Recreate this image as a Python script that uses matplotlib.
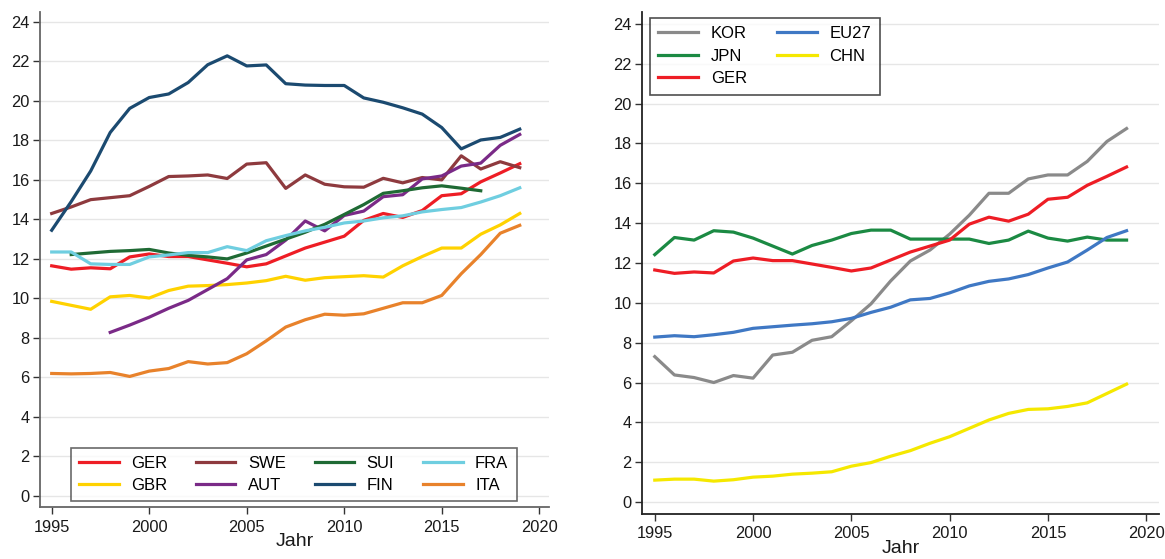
import numpy as np
import matplotlib
matplotlib.use("Agg")
import matplotlib.pyplot as plt

plt.rcParams['font.family'] = ['Liberation Sans', 'DejaVu Sans']

years = list(range(1995, 2020))

# left panel (europe)
ger = [11.65, 11.48, 11.55, 11.5, 12.1, 12.25, 12.12, 12.12, 11.95, 11.78, 11.6, 11.75, 12.15,
       12.55, 12.85, 13.15, 13.95, 14.3, 14.1, 14.45, 15.2, 15.3, 15.9, 16.35, 16.82]
swe = [14.3, 14.63, 15.0, 15.1, 15.2, 15.67, 16.17, 16.2, 16.25, 16.07, 16.8, 16.87, 15.57,
       16.25, 15.78, 15.65, 15.63, 16.08, 15.85, 16.12, 16.0, 17.22, 16.55, 16.92, 16.62]
sui_years = list(range(1996, 2018))
sui = [12.22, 12.3, 12.38, 12.42, 12.48, 12.3, 12.18, 12.1, 12.0, 12.3, 12.65, 13.0, 13.35,
       13.75, 14.25, 14.75, 15.32, 15.45, 15.6, 15.7, 15.58, 15.45]
fra = [12.35, 12.35, 11.75, 11.72, 11.72, 12.1, 12.2, 12.32, 12.32, 12.62, 12.42, 12.92, 13.18,
       13.42, 13.6, 13.82, 13.92, 14.08, 14.18, 14.38, 14.5, 14.6, 14.88, 15.2, 15.6]
gbr = [9.85, 9.65, 9.45, 10.08, 10.15, 10.02, 10.4, 10.62, 10.65, 10.7, 10.78, 10.9, 11.12,
       10.92, 11.05, 11.1, 11.15, 11.08, 11.65, 12.12, 12.55, 12.55, 13.25, 13.72, 14.3]
aut_years = list(range(1998, 2020))
aut = [8.28, 8.65, 9.05, 9.5, 9.9, 10.45, 11.0, 11.95, 12.22, 12.95, 13.92, 13.42, 14.2,
       14.42, 15.15, 15.25, 16.05, 16.2, 16.7, 16.85, 17.75, 18.3]
fin = [13.45, 14.9, 16.45, 18.4, 19.62, 20.17, 20.35, 20.93, 21.83, 22.28, 21.77, 21.82, 20.87,
       20.8, 20.78, 20.78, 20.15, 19.93, 19.65, 19.33, 18.65, 17.57, 18.02, 18.15, 18.57]
ita = [6.2, 6.18, 6.2, 6.25, 6.05, 6.32, 6.45, 6.8, 6.68, 6.75, 7.2, 7.85, 8.55,
       8.92, 9.2, 9.15, 9.22, 9.5, 9.78, 9.78, 10.15, 11.25, 12.22, 13.3, 13.7]

# right panel (world)
kor = [7.3, 6.38, 6.25, 6.0, 6.35, 6.22, 7.38, 7.52, 8.12, 8.3, 9.1, 9.95, 11.1,
       12.1, 12.65, 13.45, 14.4, 15.5, 15.5, 16.22, 16.42, 16.42, 17.1, 18.1, 18.75]
jpn = [12.42, 13.28, 13.15, 13.62, 13.55, 13.25, 12.85, 12.45, 12.88, 13.15, 13.48, 13.65, 13.65,
       13.2, 13.2, 13.2, 13.2, 12.98, 13.15, 13.6, 13.25, 13.1, 13.3, 13.15, 13.15]
eu27 = [8.28, 8.35, 8.3, 8.4, 8.52, 8.72, 8.8, 8.88, 8.95, 9.05, 9.22, 9.52, 9.78,
        10.15, 10.22, 10.5, 10.85, 11.08, 11.2, 11.42, 11.75, 12.05, 12.65, 13.28, 13.62]
chn = [1.1, 1.15, 1.15, 1.05, 1.12, 1.25, 1.3, 1.4, 1.45, 1.52, 1.8, 1.98, 2.3,
       2.58, 2.95, 3.28, 3.7, 4.12, 4.45, 4.65, 4.68, 4.8, 4.98, 5.45, 5.92]

left_series = [
    ("GER", years, ger, '#ee1d25'),
    ("GBR", years, gbr, '#ffd200'),
    ("SWE", years, swe, '#8e3a3e'),
    ("AUT", aut_years, aut, '#7a2a87'),
    ("SUI", sui_years, sui, '#1f6a34'),
    ("FIN", years, fin, '#1b4a70'),
    ("FRA", years, fra, '#6fcee0'),
    ("ITA", years, ita, '#e8822b'),
]
right_series = [
    ("KOR", years, kor, '#8a8a8a'),
    ("JPN", years, jpn, '#1b8a43'),
    ("GER", years, ger, '#ee1d25'),
    ("EU27", years, eu27, '#3f78c4'),
    ("CHN", years, chn, '#f5e800'),
]


def style_axes(ax, xlim, ylim, spine_col):
    ax.set_xlim(*xlim)
    ax.set_ylim(*ylim)
    ax.set_xticks(range(1995, 2021, 5))
    ax.set_yticks(range(0, 25, 2))
    ax.grid(axis='y', color='#e6e6e6', linewidth=1.0)
    ax.set_axisbelow(True)
    for s in ['top', 'right']:
        ax.spines[s].set_visible(False)
    for s in ['left', 'bottom']:
        ax.spines[s].set_color(spine_col)
        ax.spines[s].set_linewidth(1.3)
    ax.tick_params(direction='out', length=5, width=1.0, color='#333333',
                   labelsize=11.8, labelcolor='#1a1a1a')
    ax.tick_params(axis='x', pad=4)
    ax.tick_params(axis='y', pad=2.5)
    ax.set_xlabel("Jahr", fontsize=14, labelpad=-1, color='#1a1a1a')


fig = plt.figure(figsize=(11.65, 5.59), dpi=100)
ax1 = fig.add_axes([40 / 1165, 1 - 507 / 559, 509 / 1165, 495 / 559])
ax2 = fig.add_axes([642 / 1165, 1 - 514 / 559, 517 / 1165, 502 / 559])

for name, x, y, c in left_series:
    ax1.plot(x, y, color=c, linewidth=2.3, label=name)
for name, x, y, c in right_series:
    ax2.plot(x, y, color=c, linewidth=2.3, label=name)

style_axes(ax1, (1994.4, 2020.5), (-0.56, 24.5), '#666666')
style_axes(ax2, (1994.35, 2020.65), (-0.6, 24.6), '#222222')

leg1 = ax1.legend(ncol=4, loc='lower left', bbox_to_anchor=(31 / 509, 6 / 495),
                  fontsize=12, frameon=True, fancybox=False, handlelength=2.35,
                  handletextpad=0.75, columnspacing=1.75, borderpad=0.5, labelspacing=0.4,
                  borderaxespad=0)
leg1.get_frame().set_edgecolor('#444444')
leg1.get_frame().set_linewidth(1.2)

leg2 = ax2.legend(ncol=2, loc='upper left', bbox_to_anchor=(8 / 517, 1 - 6 / 502),
                  fontsize=12, frameon=True, fancybox=False, handlelength=2.4,
                  handletextpad=0.75, columnspacing=1.8, borderpad=0.5, labelspacing=0.45,
                  borderaxespad=0)
leg2.get_frame().set_edgecolor('#222222')
leg2.get_frame().set_linewidth(1.2)

fig.savefig("out.png", dpi=100)
